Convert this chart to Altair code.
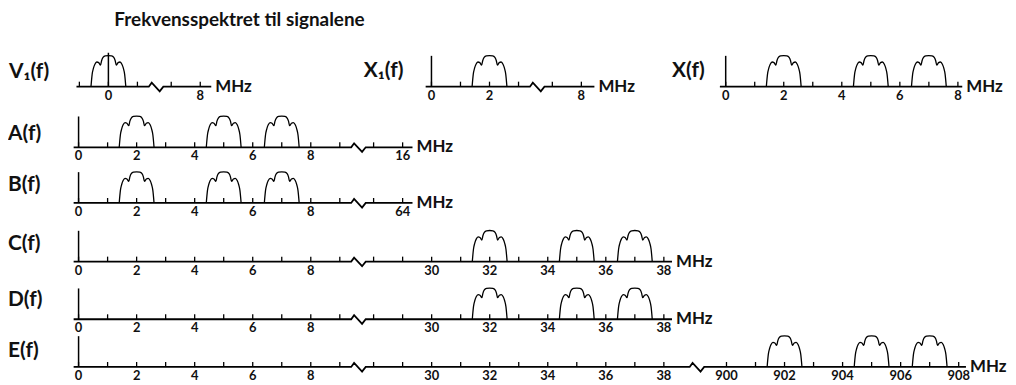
import altair as alt
import pandas as pd

# ---------------- data ----------------
title_text = "Frekvensspektret til signalene"
panel_names = ["V₁(f)", "X₁(f)", "X(f)", "A(f)", "B(f)", "C(f)", "D(f)", "E(f)"]
unit_text = "MHz"

v1_ticks = [-1, 0, 1, 7, 8]
v1_labels = [0, 8]
x1_ticks = [0, 1, 2, 3, 7, 8]
x1_labels = [0, 2, 8]
x_ticks = [0, 1, 2, 3, 4, 5, 6, 7, 8]
x_labels = [0, 2, 4, 6, 8]
a_ticks = [0, 1, 2, 3, 4, 5, 6, 7, 8, 9, 15, 16]
a_labels = [0, 2, 4, 6, 8, 16]
b_ticks = [0, 1, 2, 3, 4, 5, 6, 7, 8, 9, 63, 64]
b_labels = [0, 2, 4, 6, 8, 64]
cd_ticks = [0, 1, 2, 3, 4, 5, 6, 7, 8, 9, 28, 29, 30, 31, 32, 33, 34, 35, 36, 37, 38]
cd_labels = [0, 2, 4, 6, 8, 30, 32, 34, 36, 38]
e_ticks = [0, 1, 2, 3, 4, 5, 6, 7, 8, 9, 28, 29, 30, 31, 32, 33, 34, 35, 36, 37, 38,
           900, 901, 902, 903, 904, 905, 906, 907, 908]
e_labels = [0, 2, 4, 6, 8, 30, 32, 34, 36, 38, 900, 902, 904, 906, 908]

v1_centers = [0]
x1_centers = [2]
x_centers = [2, 5, 7]
ab_centers = [2, 5, 7]
cd_centers = [32, 35, 37]
e_centers = [902, 905, 907]

# spectrum lobe shape: offset from centre (MHz) and relative amplitude
lobe_offset = [-0.60, -0.56, -0.515, -0.465, -0.40, -0.335, -0.27, -0.235, -0.185, -0.11, 0.0,
               0.11, 0.185, 0.235, 0.27, 0.335, 0.40, 0.465, 0.515, 0.56, 0.60]
lobe_amp = [0.0, 0.40, 0.60, 0.73, 0.80, 0.78, 0.70, 0.84, 0.95, 1.0, 1.01,
            1.0, 0.95, 0.84, 0.70, 0.78, 0.80, 0.73, 0.60, 0.40, 0.0]

# ---------------- layout ----------------
W, H = 1006, 377
PX = 29.2          # pixels per MHz
AMP_PX = 31.0      # pixels per unit amplitude
ORIGIN_X = 79.0    # page x of f=0 on full rows
TOP = 8.0
GAP = 34.0 / PX
GAP2 = 63.0 / PX
FONT = "Lato"


def U(px):
    return (px - ORIGIN_X) / PX


def V(py):
    return (TOP + H - py) / AMP_PX


panels = [
    dict(i=0, ticks=v1_ticks, labels=v1_labels, centers=v1_centers, breaks=[(1, 7, GAP)],
         ox=109, by=86, lx=9, ly=71, start=-1.1, pad=0.38, vline=1.1),
    dict(i=1, ticks=x1_ticks, labels=x1_labels, centers=x1_centers, breaks=[(3, 7, GAP)],
         ox=434, by=86, lx=366, ly=70, start=-0.2, pad=0.45, vline=1.0),
    dict(i=2, ticks=x_ticks, labels=x_labels, centers=x_centers, breaks=[],
         ox=730, by=86, lx=676, ly=70, start=-0.2, pad=0.15, vline=1.0),
    dict(i=3, ticks=a_ticks, labels=a_labels, centers=ab_centers, breaks=[(9, 15, GAP)],
         ox=79, by=147, lx=8, ly=134, start=-0.17, pad=0.34, vline=1.0),
    dict(i=4, ticks=b_ticks, labels=b_labels, centers=ab_centers, breaks=[(9, 63, GAP)],
         ox=79, by=203, lx=8, ly=185, start=-0.17, pad=0.34, vline=1.0),
    dict(i=5, ticks=cd_ticks, labels=cd_labels, centers=cd_centers, breaks=[(9, 28, GAP)],
         ox=79, by=262, lx=8, ly=244, start=-0.17, pad=0.28, vline=1.0),
    dict(i=6, ticks=cd_ticks, labels=cd_labels, centers=cd_centers, breaks=[(9, 28, GAP)],
         ox=79, by=320, lx=8, ly=301, start=-0.17, pad=0.28, vline=1.0),
    dict(i=7, ticks=e_ticks, labels=e_labels, centers=e_centers, breaks=[(9, 28, GAP), (38, 900, GAP2)],
         ox=79, by=368, lx=8, ly=352, start=-0.17, pad=0.25, vline=1.0),
]


def disp(f, breaks):
    shift = 0.0
    for fb, fa, gap in breaks:
        if f >= fa:
            shift += fb + gap - fa
    return f + shift


axis_rows, vline_rows, tick_rows, tlabel_rows, lobe_rows, name_rows, unit_rows = [], [], [], [], [], [], []
for p in panels:
    off = U(p["ox"])
    base = V(p["by"])
    br = p["breaks"]
    # axis with zig-zag breaks
    pts = [(disp(p["start"], br), 0.0)]
    for fb, fa, gap in br:
        mid = (disp(fb, br) + disp(fa, br)) / 2.0
        s = mid - 0.19
        pts += [(s, 0.0), (s + 0.1, 0.13), (s + 0.375, -0.15), (s + 0.5, 0.0)]
    end = disp(p["ticks"][-1] + p["pad"], br)
    pts.append((end, 0.0))
    for k, (u, v) in enumerate(pts):
        axis_rows.append(dict(panel=p["i"], order=k, u=off + u, v=base + v))
    vline_rows.append(dict(u=off + disp(0, br), v=base, v2=base + p["vline"]))
    for t in p["ticks"]:
        tick_rows.append(dict(u=off + disp(t, br), v=base, v2=base + 5.0 / AMP_PX))
    for t in p["labels"]:
        tlabel_rows.append(dict(u=off + disp(t, br), v=base, text=str(t)))
    for j, c in enumerate(p["centers"]):
        for k, (o, a) in enumerate(zip(lobe_offset, lobe_amp)):
            lobe_rows.append(dict(lobe=f"{p['i']}-{j}", order=k, u=off + disp(c, br) + o, v=base + a))
    name_rows.append(dict(u=U(p["lx"]), v=V(p["ly"]), text=panel_names[p["i"]]))
    unit_rows.append(dict(u=off + end, v=base, text=unit_text))

title_df = pd.DataFrame([dict(u=U(115), v=V(25), text=title_text)])

xs = alt.Scale(domain=[U(TOP), U(TOP + W)], nice=False, zero=False)
ys = alt.Scale(domain=[0, H / AMP_PX], nice=False, zero=False)
X = alt.X("u:Q", scale=xs, axis=None)
Y = alt.Y("v:Q", scale=ys, axis=None)

axis_layer = alt.Chart(pd.DataFrame(axis_rows)).mark_line(color="black", strokeWidth=1.8).encode(
    x=X, y=Y, detail="panel:N", order="order:Q")
vline_layer = alt.Chart(pd.DataFrame(vline_rows)).mark_rule(color="black", strokeWidth=1.5).encode(
    x=X, y=Y, y2="v2:Q")
tick_layer = alt.Chart(pd.DataFrame(tick_rows)).mark_rule(color="black", strokeWidth=1.3).encode(
    x=X, y=Y, y2="v2:Q")
lobe_layer = alt.Chart(pd.DataFrame(lobe_rows)).mark_line(
    color="black", strokeWidth=1.3, interpolate="monotone").encode(
    x=X, y=Y, detail="lobe:N", order="order:Q")
tlabel_layer = alt.Chart(pd.DataFrame(tlabel_rows)).mark_text(
    font=FONT, fontSize=13, fontWeight="bold", color="#111", baseline="middle", align="center", dy=9).encode(
    x=X, y=Y, text="text:N")
name_layer = alt.Chart(pd.DataFrame(name_rows)).mark_text(
    font=FONT, fontSize=21, fontWeight="bold", color="#111", baseline="middle", align="left").encode(
    x=X, y=Y, text="text:N")
unit_layer = alt.Chart(pd.DataFrame(unit_rows)).mark_text(
    font=FONT, fontSize=17, fontWeight="bold", color="#111", baseline="middle", align="left", dx=4).encode(
    x=X, y=Y, text="text:N")
title_layer = alt.Chart(title_df).mark_text(
    font=FONT, fontSize=19, fontWeight="bold", color="#111", baseline="alphabetic", align="left").encode(
    x=X, y=Y, text="text:N")

chart = alt.layer(
    axis_layer, vline_layer, tick_layer, lobe_layer, tlabel_layer, name_layer, unit_layer, title_layer
).properties(
    width=W, height=H, padding=0, autosize=alt.AutoSizeParams(type="none")
).configure_view(stroke=None)

chart.save("out.html", embed_options={"renderer": "svg", "actions": False})
